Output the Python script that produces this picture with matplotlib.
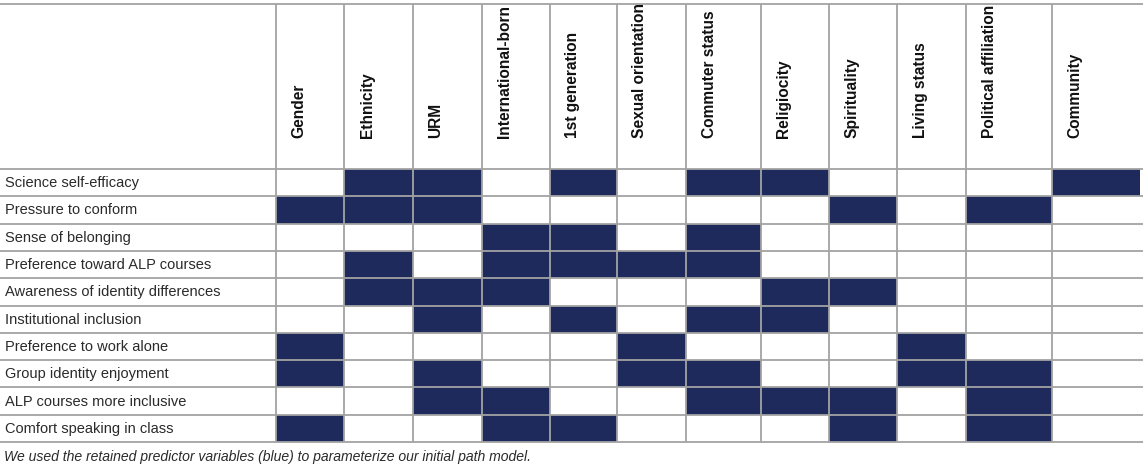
import numpy as np
import matplotlib
matplotlib.use('Agg')
import matplotlib.pyplot as plt
from matplotlib.colors import ListedColormap

plt.rcParams['font.family'] = ['Liberation Sans', 'DejaVu Sans']

# predictor variables (columns) and outcome variables (rows)
predictors = ["Gender", "Ethnicity", "URM", "International-born", "1st generation",
              "Sexual orientation", "Commuter status", "Religiocity", "Spirituality",
              "Living status", "Political affiliation", "Community"]
outcomes = ["Science self-efficacy", "Pressure to conform", "Sense of belonging",
            "Preference toward ALP courses", "Awareness of identity differences",
            "Institutional inclusion", "Preference to work alone",
            "Group identity enjoyment", "ALP courses more inclusive",
            "Comfort speaking in class"]
# 1 = retained predictor (blue cell)
retained = [
    [0, 1, 1, 0, 1, 0, 1, 1, 0, 0, 0, 1],
    [1, 1, 1, 0, 0, 0, 0, 0, 1, 0, 1, 0],
    [0, 0, 0, 1, 1, 0, 1, 0, 0, 0, 0, 0],
    [0, 1, 0, 1, 1, 1, 1, 0, 0, 0, 0, 0],
    [0, 1, 1, 1, 0, 0, 0, 1, 1, 0, 0, 0],
    [0, 0, 1, 0, 1, 0, 1, 1, 0, 0, 0, 0],
    [1, 0, 0, 0, 0, 1, 0, 0, 0, 1, 0, 0],
    [1, 0, 1, 0, 0, 1, 1, 0, 0, 1, 1, 0],
    [0, 0, 1, 1, 0, 0, 1, 1, 1, 0, 1, 0],
    [1, 0, 0, 1, 1, 0, 0, 0, 1, 0, 1, 0],
]
caption = "We used the retained predictor variables (blue) to parameterize our initial path model."

# layout (pixel units of the figure)
W, H = 1143, 467
col_edges = [276, 344, 413, 482, 550, 617, 686, 761, 829, 897, 966, 1052, 1140]
top = 3.5
header_bottom = 169
row_h = 27.3
row_edges = header_bottom + row_h * np.arange(len(outcomes) + 1)

NAVY = '#1f2a5c'
GRID = '#a3a3a3'

fig = plt.figure(figsize=(W / 100, H / 100), dpi=100)
ax = fig.add_axes([0, 0, 1, 1])
ax.set_xlim(0, W)
ax.set_ylim(H, 0)
ax.axis('off')

mat = np.array(retained)
ax.pcolormesh(col_edges, row_edges, mat, cmap=ListedColormap(['white', NAVY]),
              vmin=0, vmax=1, shading='flat')

# grid lines
ax.hlines(np.concatenate([[top, header_bottom], row_edges[1:]]), 0, W,
          color=GRID, lw=1.3, zorder=3)
ax.vlines(col_edges[:-1], top, row_edges[-1], color=GRID, lw=1.3, zorder=3)

# header labels
for left, name in zip(col_edges[:-1], predictors):
    ax.text(left + 23, 138, name, rotation=90, ha='center', va='bottom',
            fontsize=11.2, fontweight='bold', color='#111111', zorder=4)

# row labels
for i, name in enumerate(outcomes):
    ax.text(5, (row_edges[i] + row_edges[i + 1]) / 2 + 0.5, name, ha='left', va='center',
            fontsize=10.5, color='#2a2a2a', zorder=4)

ax.text(4, 456.5, caption, ha='left', va='center', fontsize=10.1,
        style='italic', color='#2a2a2a')

fig.savefig('out.png', dpi=100)
